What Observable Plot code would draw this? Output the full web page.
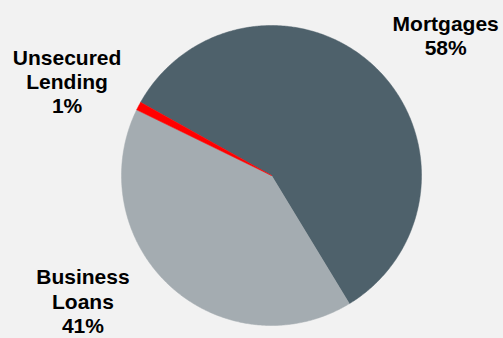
<!DOCTYPE html>
<html>
<head>
<meta charset="utf-8">
<script src="https://cdn.jsdelivr.net/npm/d3@7"></script>
<script src="https://cdn.jsdelivr.net/npm/@observablehq/plot@0.6"></script>
<style>
  html, body { margin: 0; padding: 0; background: #f2f2f2; }
  #chart { width: 503px; height: 338px; }
</style>
</head>
<body>
<div id="chart"></div>
<script>
// ---- data ----
const categories = ["Mortgages", "Business Loans", "Unsecured Lending"];
const shares = [58.2, 40.9, 0.9];
const labels = ["Mortgages\n58%", "Business\nLoans\n41%", "Unsecured\nLending\n1%"];
const colors = ["#4e616b", "#a4acb1", "#ff0000"];
// layout
const startAngleDeg = -60.8;
const labelRadius = 1.5;
const labelOffsets = [[18, 22], [-37, -41], [-5, 10]]; // pixels

const R_PX = 150;
const rad = d => d * Math.PI / 180;
const arcs = d3.pie().sort(null).startAngle(rad(startAngleDeg)).endAngle(rad(startAngleDeg) + 2 * Math.PI)(shares);

// slice outlines (center -> arc -> center)
const slicePts = [];
arcs.forEach((a, i) => {
  const cat = categories[i];
  slicePts.push({cat, x: 0, y: 0});
  const n = Math.max(2, Math.ceil((a.endAngle - a.startAngle) / rad(0.5)));
  for (let k = 0; k <= n; k++) {
    const t = a.startAngle + (a.endAngle - a.startAngle) * k / n;
    slicePts.push({cat, x: Math.sin(t), y: Math.cos(t)});
  }
  slicePts.push({cat, x: 0, y: 0});
});

const labelData = arcs.map((a, i) => {
  const m = (a.startAngle + a.endAngle) / 2;
  return {
    label: labels[i],
    x: labelRadius * Math.sin(m) + labelOffsets[i][0] / R_PX,
    y: labelRadius * Math.cos(m) - labelOffsets[i][1] / R_PX
  };
});

const chart = Plot.plot({
  width: 503,
  height: 338,
  margin: 0,
  style: {background: "#f2f2f2"},
  x: {domain: [-1, 1], range: [121, 421], axis: null},
  y: {domain: [-1, 1], range: [325, 25], axis: null},
  color: {domain: categories, range: colors},
  marks: [
    Plot.line(slicePts, {x: "x", y: "y", z: "cat", fill: "cat", stroke: "cat", strokeWidth: 0.5, curve: "linear"}),
    Plot.text(labelData, {
      x: "x", y: "y", text: "label",
      fontFamily: "Liberation Sans, Arial, Helvetica, sans-serif",
      fontWeight: "bold", fontSize: 21, lineHeight: 1.15,
      fill: "#000", textAnchor: "middle"
    })
  ]
});
document.getElementById("chart").appendChild(chart);
</script>
</body>
</html>
